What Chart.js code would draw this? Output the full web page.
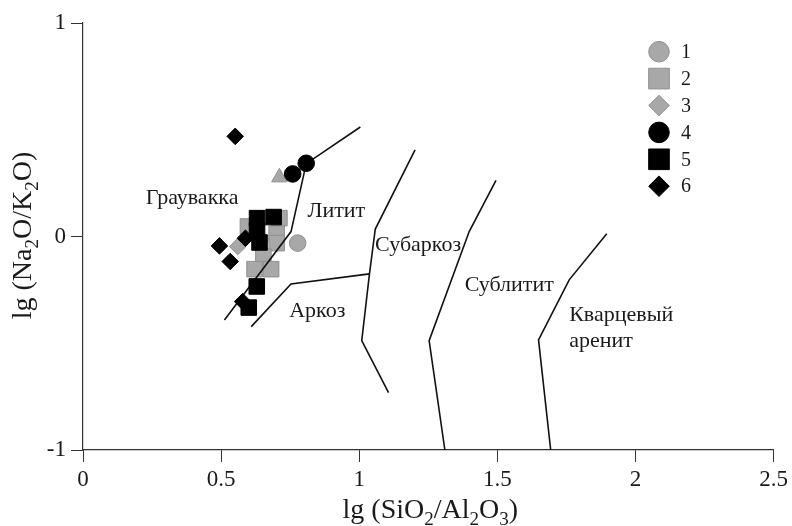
<!DOCTYPE html>
<html>
<head>
<meta charset="utf-8">
<script src="https://cdn.jsdelivr.net/npm/chart.js@4/dist/chart.umd.min.js"></script>
<style>
  html, body { margin: 0; padding: 0; background: #fff; }
  #wrap { width: 792px; height: 526px; }
</style>
</head>
<body>
<div id="wrap"><canvas id="c" width="792" height="526"></canvas></div>
<script>
// Sample groups: lg(SiO2/Al2O3) and lg(Na2O/K2O)
const s1X = [0.777];
const s1Y = [-0.031];
const s2X = [0.711, 0.597, 0.701, 0.701, 0.653, 0.621, 0.681];
const s2Y = [0.086, 0.047, 0.013, -0.031, -0.094, -0.153, -0.153];
const s3X = [0.560, 0.711];
const s3Y = [-0.047, 0.277];
const s4X = [0.759, 0.808];
const s4Y = [0.293, 0.343];
const s5X = [0.630, 0.630, 0.639, 0.690, 0.629, 0.600];
const s5Y = [0.086, 0.028, -0.028, 0.091, -0.234, -0.333];
const s6X = [0.551, 0.494, 0.533, 0.588, 0.578];
const s6Y = [0.469, -0.044, -0.117, -0.008, -0.305];

// Field boundaries of the classification diagram
const bGraywackeX = [0.512, 0.753, 0.808, 1.004];
const bGraywackeY = [-0.391, 0.023, 0.341, 0.513];
const bArkoseX = [0.609, 0.753, 1.037];
const bArkoseY = [-0.422, -0.222, -0.175];
const bSubarkoseX = [1.202, 1.058, 1.037, 1.009, 1.106];
const bSubarkoseY = [0.406, 0.035, -0.175, -0.488, -0.731];
const bSublithX = [1.495, 1.398, 1.253, 1.310];
const bSublithY = [0.263, 0.023, -0.488, -1.0];
const bQuartzX = [1.896, 1.760, 1.649, 1.693];
const bQuartzY = [0.013, -0.203, -0.484, -1.0];

const xTicks = [0, 0.5, 1, 1.5, 2, 2.5];
const yTicks = [-1, 0, 1];
const legendLabels = ['1', '2', '3', '4', '5', '6'];

const fieldNames = [
  { text: 'Граувакка', x: 0.395, y: 0.18, align: 'center' },
  { text: 'Литит', x: 0.917, y: 0.12, align: 'center' },
  { text: 'Субаркоз', x: 1.213, y: -0.04, align: 'center' },
  { text: 'Сублитит', x: 1.543, y: -0.228, align: 'center' },
  { text: 'Кварцевый', x: 1.76, y: -0.37, align: 'left' },
  { text: 'аренит', x: 1.76, y: -0.49, align: 'left' },
  { text: 'Аркоз', x: 0.848, y: -0.35, align: 'center' }
];

const pts = (xs, ys) => xs.map((x, i) => ({ x, y: ys[i] }));

const GRAY = '#a8a8a8';
const GRAY_EDGE = '#909090';
const BLACK = '#000000';
const SERIF = '"Liberation Serif", "Times New Roman", serif';

function boundary(xs, ys) {
  return {
    data: pts(xs, ys),
    showLine: true,
    borderColor: '#111',
    borderWidth: 1.6,
    pointRadius: 0,
    pointHoverRadius: 0,
    fill: false,
    order: 1
  };
}

function group(label, xs, ys, style, radius, fill, edge, order) {
  return {
    label,
    data: pts(xs, ys),
    pointStyle: style,
    pointRadius: radius,
    backgroundColor: fill,
    borderColor: edge,
    borderWidth: 1,
    showLine: false,
    order
  };
}

const datasets = [
  group('1', s1X, s1Y, 'circle', 8.3, GRAY, GRAY_EDGE, 2),
  group('2', s2X, s2Y, 'rect', 11, GRAY, GRAY_EDGE, 2),
  group('3', s3X, s3Y, ['rectRot', 'triangle'], [8.3, 9], GRAY, GRAY_EDGE, 2),
  boundary(bGraywackeX, bGraywackeY),
  boundary(bArkoseX, bArkoseY),
  boundary(bSubarkoseX, bSubarkoseY),
  boundary(bSublithX, bSublithY),
  boundary(bQuartzX, bQuartzY),
  group('4', s4X, s4Y, 'circle', 8.3, BLACK, BLACK, 0),
  group('5', s5X, s5Y, 'rect', 11, BLACK, BLACK, 0),
  group('6', s6X, s6Y, 'rectRot', 8.3, BLACK, BLACK, 0)
];

// Legend markers, one per sample group, in a column at upper right
const legendStyle = [
  { style: 'circle', r: 10.3, fill: GRAY, edge: GRAY_EDGE },
  { style: 'rect', r: 14.6, fill: GRAY, edge: GRAY_EDGE },
  { style: 'rectRot', r: 10.3, fill: GRAY, edge: GRAY_EDGE },
  { style: 'circle', r: 10.3, fill: BLACK, edge: BLACK },
  { style: 'rect', r: 14.6, fill: BLACK, edge: BLACK },
  { style: 'rectRot', r: 10.3, fill: BLACK, edge: BLACK }
];

function drawSubscripted(ctx, parts, size) {
  // parts: [text, isSubscript]
  const sub = Math.round(size * 0.68);
  let total = 0;
  const widths = parts.map(([t, s]) => {
    ctx.font = (s ? sub : size) + 'px ' + SERIF;
    const w = ctx.measureText(t).width;
    total += w;
    return w;
  });
  let x = -total / 2;
  parts.forEach(([t, s], i) => {
    ctx.font = (s ? sub : size) + 'px ' + SERIF;
    ctx.fillText(t, x, s ? size * 0.26 : 0);
    x += widths[i];
  });
}

const annotations = {
  id: 'annotations',
  afterDatasetsDraw(chart) {
    const ctx = chart.ctx;
    const xs = chart.scales.x, ys = chart.scales.y;
    ctx.save();
    ctx.fillStyle = '#1a1a1a';
    ctx.textBaseline = 'middle';
    ctx.font = '22px ' + SERIF;
    fieldNames.forEach(f => {
      ctx.textAlign = f.align;
      ctx.fillText(f.text, xs.getPixelForValue(f.x), ys.getPixelForValue(f.y));
    });

    // legend
    const lx = 659, ly0 = 51.7, step = 26.9;
    legendStyle.forEach((m, i) => {
      const y = ly0 + i * step;
      ctx.fillStyle = m.fill;
      ctx.strokeStyle = m.edge;
      ctx.lineWidth = 1;
      Chart.helpers.drawPoint(ctx, { pointStyle: m.style, radius: m.r, rotation: 0, borderWidth: 1 }, lx, y);
      ctx.fillStyle = '#1a1a1a';
      ctx.font = '20px ' + SERIF;
      ctx.textAlign = 'left';
      ctx.textBaseline = 'middle';
      ctx.fillText(legendLabels[i], 681, y + 1);
    });

    // axis titles
    ctx.fillStyle = '#1a1a1a';
    ctx.textAlign = 'left';
    ctx.textBaseline = 'alphabetic';
    ctx.save();
    ctx.translate((xs.left + xs.right) / 2 + 2, 518);
    drawSubscripted(ctx, [['lg (SiO', 0], ['2', 1], ['/Al', 0], ['2', 1], ['O', 0], ['3', 1], [')', 0]], 28);
    ctx.restore();
    ctx.save();
    ctx.translate(31, (ys.top + ys.bottom) / 2 - 1);
    ctx.rotate(-Math.PI / 2);
    drawSubscripted(ctx, [['lg (Na', 0], ['2', 1], ['O/K', 0], ['2', 1], ['O)', 0]], 28);
    ctx.restore();
    ctx.restore();
  }
};

new Chart(document.getElementById('c'), {
  type: 'scatter',
  data: { datasets },
  options: {
    responsive: false,
    animation: false,
    devicePixelRatio: 1,
    layout: { padding: { top: 23, right: 18, left: 0, bottom: 0 } },
    plugins: { legend: { display: false }, tooltip: { enabled: false } },
    scales: {
      x: {
        type: 'linear', min: 0, max: 2.5,
        afterBuildTicks: s => { s.ticks = xTicks.map(v => ({ value: v })); },
        afterFit: s => { s.height = 76; },
        ticks: { font: { family: SERIF, size: 23 }, color: '#1a1a1a', padding: 4, maxRotation: 0, callback: v => String(v) },
        grid: { drawOnChartArea: false, drawTicks: true, tickLength: 12, color: '#333', lineWidth: 1 },
        border: { display: true, color: '#333', width: 1.2 }
      },
      y: {
        type: 'linear', min: -1, max: 1,
        afterBuildTicks: s => { s.ticks = yTicks.map(v => ({ value: v })); },
        afterFit: s => { s.width = 83; },
        ticks: { font: { family: SERIF, size: 23 }, color: '#1a1a1a', padding: 5, callback: v => String(v) },
        grid: { drawOnChartArea: false, drawTicks: true, tickLength: 12, color: '#333', lineWidth: 1 },
        border: { display: true, color: '#333', width: 1.2 }
      }
    }
  },
  plugins: [annotations]
});
</script>
</body>
</html>
